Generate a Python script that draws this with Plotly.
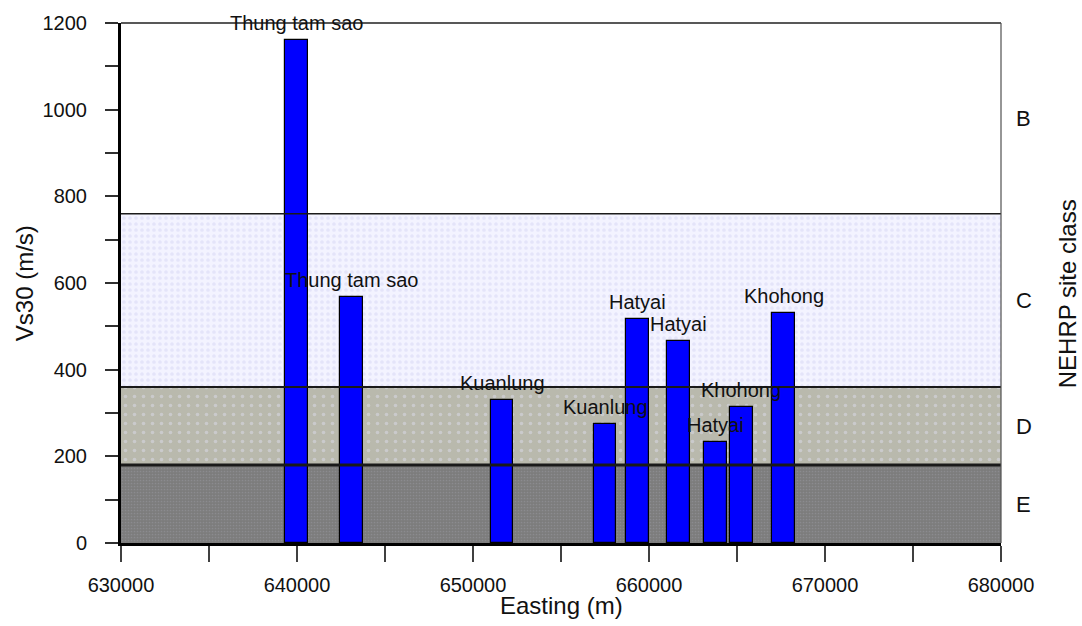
import plotly.graph_objects as go

# Survey sites: easting (m) and measured Vs30 (m/s)
site_names = ["Thung tam sao", "Thung tam sao", "Kuanlung", "Kuanlung",
              "Hatyai", "Hatyai", "Hatyai", "Khohong", "Khohong"]
easting = [639950, 643100, 651650, 657500, 659350, 661700, 663800, 665250, 667650]
vs30 = [1160, 568, 331, 275, 516, 467, 234, 314, 530]

# NEHRP site class limits (m/s), from bottom to top of the plot
class_names = ["E", "D", "C", "B"]
class_limits = [0, 180, 360, 760, 1200]

x_range = [630000, 680000]
y_range = [class_limits[0], class_limits[-1]]

FONT = "Arial, Liberation Sans, sans-serif"

fig = go.Figure()

# Shaded site-class bands (B is left white), drawn as full-width bars
band_styles = {
    "E": dict(bg="#7c7c7c", fg="#9a9aa2", size=3, solidity=0.25),
    "D": dict(bg="#b9b9ad", fg="#dcdcec", size=9, solidity=0.12),
    "C": dict(bg="#f3f3ff", fg="#d6d6f4", size=6, solidity=0.3),
}
x_mid = (x_range[0] + x_range[1]) / 2
x_span = x_range[1] - x_range[0]
for i, name in enumerate(class_names):
    if name not in band_styles:
        continue
    lo, hi = class_limits[i], class_limits[i + 1]
    st = band_styles[name]
    fig.add_trace(go.Bar(
        x=[x_mid], y=[hi - lo], base=[lo], width=x_span,
        marker=dict(color=st["bg"], line=dict(width=0),
                    pattern=dict(shape=".", bgcolor=st["bg"], fgcolor=st["fg"],
                                 size=st["size"], solidity=st["solidity"])),
        hoverinfo="skip", showlegend=False,
    ))

# Vs30 bars
fig.add_trace(go.Bar(
    x=easting, y=vs30, width=1300,
    marker=dict(color="#0000ff", line=dict(color="#000000", width=1.2)),
    showlegend=False,
))

# Class boundary lines
boundary_widths = {180: 3, 360: 2, 760: 1.5}
for lim, w in boundary_widths.items():
    fig.add_shape(type="line", xref="x", yref="y",
                  x0=x_range[0], x1=x_range[1], y0=lim, y1=lim,
                  line=dict(color="#1a1a1a", width=w), layer="above")

# Thin frame on top and right
fig.add_shape(type="line", xref="paper", yref="paper", x0=0, x1=1, y0=1, y1=1,
              line=dict(color="#202020", width=1.5), layer="above")
fig.add_shape(type="line", xref="paper", yref="paper", x0=1, x1=1, y0=0, y1=1,
              line=dict(color="#505050", width=1.2), layer="above")

annotations = []
# Site names above bars
for name, xv, yv in zip(site_names, easting, vs30):
    annotations.append(dict(x=xv, y=yv, xref="x", yref="y", text=name,
                            showarrow=False, yanchor="middle", yshift=17,
                            font=dict(family=FONT, size=20, color="#111111")))
# Site class letters at band mid-heights
for i, name in enumerate(class_names):
    mid = (class_limits[i] + class_limits[i + 1]) / 2
    annotations.append(dict(x=1.026, y=mid, xref="paper", yref="y", text=name,
                            showarrow=False, xanchor="center", yanchor="middle",
                            font=dict(family=FONT, size=22, color="#111111")))
# Axis titles
annotations.append(dict(x=0.5, y=-0.12, xref="paper", yref="paper",
                        text="Easting (m)", showarrow=False,
                        xanchor="center", yanchor="middle",
                        font=dict(family=FONT, size=24, color="#111111")))
annotations.append(dict(x=-0.11, y=0.50, xref="paper", yref="paper",
                        text="Vs30 (m/s)", showarrow=False, textangle=-90,
                        xanchor="center", yanchor="middle",
                        font=dict(family=FONT, size=24, color="#111111")))
annotations.append(dict(x=1.076, y=0.48, xref="paper", yref="paper",
                        text="NEHRP site class", showarrow=False, textangle=-90,
                        xanchor="center", yanchor="middle",
                        font=dict(family=FONT, size=24, color="#111111")))

fig.update_layout(
    width=1082, height=626,
    margin=dict(l=121, r=81, t=19, b=83),
    paper_bgcolor="white", plot_bgcolor="white",
    barmode="overlay", bargap=0,
    annotations=annotations,
    font=dict(family=FONT, size=20, color="#111111"),
    xaxis=dict(
        range=x_range, dtick=10000, tick0=630000, tickformat="d",
        showgrid=False, zeroline=False,
        showline=True, linewidth=3, linecolor="#000000",
        ticks="outside", ticklen=16, tickwidth=2, tickcolor="#404040",
        minor=dict(dtick=5000, tick0=630000, ticks="outside", ticklen=16,
                   tickwidth=2, tickcolor="#404040"),
        ticklabelstandoff=6,
        tickfont=dict(family=FONT, size=20, color="#111111"),
    ),
    yaxis=dict(
        range=y_range, dtick=200, tickformat="d",
        showgrid=False, zeroline=False,
        showline=True, linewidth=3, linecolor="#000000",
        ticks="outside", ticklen=13, tickwidth=2, tickcolor="#303030",
        minor=dict(dtick=100, ticks="outside", ticklen=13,
                   tickwidth=2, tickcolor="#303030"),
        ticklabelstandoff=14,
        tickfont=dict(family=FONT, size=20, color="#111111"),
    ),
)

fig.write_html("out.html")
